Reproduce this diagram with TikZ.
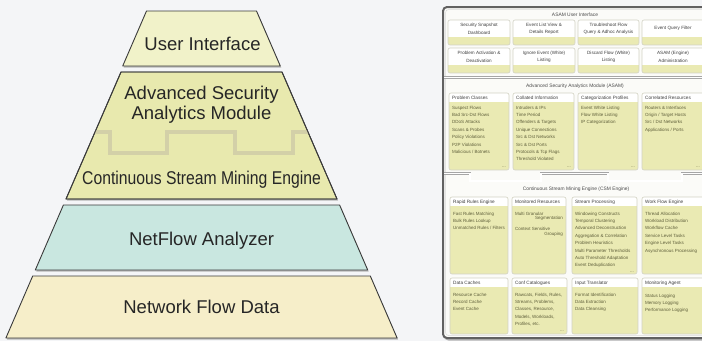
\documentclass[tikz,border=0pt]{standalone}
\usepackage{fontspec}
\setmainfont{Liberation Sans}
\definecolor{bg}{HTML}{F4F5F7}
\definecolor{uifill}{HTML}{F1F2C9}
\definecolor{asamfill}{HTML}{E8E9AE}
\definecolor{nffill}{HTML}{C9E7E0}
\definecolor{nfdfill}{HTML}{F6EEC9}
\definecolor{trapline}{HTML}{3A3A3A}
\definecolor{stepc}{HTML}{D3D0A8}
\definecolor{boxyel}{HTML}{EAEAB3}
\definecolor{boxline}{HTML}{D2D2C4}
\definecolor{panel}{HTML}{FBFBF8}
\definecolor{itemc}{HTML}{5E5E3A}
\tikzset{
  trap/.style={draw=trapline, line width=0.9pt, line join=round},
  trapshadow/.style={fill=black!28},
  big/.style={font=\fontsize{18.5}{20}\selectfont, inner sep=0pt, align=center, text=black!85},
  hdr/.style={font=\fontsize{4.7}{6}\selectfont, inner sep=0pt, text=black!75},
  itm/.style={font=\fontsize{4.5}{6}\selectfont, inner sep=0pt, text=itemc},
  uitxt/.style={font=\fontsize{4.6}{7.3}\selectfont, inner sep=0pt, align=center, text=black!75},
  ttl/.style={font=\fontsize{4.9}{6}\selectfont, inner sep=0pt, text=black!70},
  sepl/.style={draw=black!35, double=white, double distance=1.2pt, line width=0.5pt}
}
\newcommand\rpbox[6]{%
  \begin{scope}
    \path[clip, rounded corners=2pt] (#2,#3) rectangle (#4,#5);
    \fill[boxyel] (#2,#3) rectangle (#4,#5);
    \fill[white] (#2,#3) rectangle (#4,#3+9);
  \end{scope}
  \draw[boxline, line width=0.6pt, rounded corners=2pt] (#2,#3) rectangle (#4,#5);
  \node[hdr, anchor=base west] (#1) at (#2+3,#3+6.8) {#6};
}
\newcommand\rpitems[4]{%
  \foreach \t [count=\i] in {#4} {
    \node[itm, anchor=base west] (#1\i) at (#2, {#3+(\i-1)*7.4}) {\t};
  }
}
\newcommand\uibox[6]{%
  \begin{scope}
    \path[clip, rounded corners=2pt] (#2,#3) rectangle (#4,#5);
    \fill[white] (#2,#3) rectangle (#4,#5);
    \fill[boxyel] (#2,#5-8) rectangle (#4,#5);
  \end{scope}
  \draw[boxline, line width=0.6pt, rounded corners=2pt] (#2,#3) rectangle (#4,#5);
  \node[uitxt] (#1) at ({(#2+#4)/2},#3+8.8) {#6};
}
\begin{document}
\begin{tikzpicture}[x=1pt,y=-1pt]
\useasboundingbox (0,0) rectangle (702,341);
\fill[bg] (0,0) rectangle (702,341);

% ---------------- left pyramid ----------------
% shadows
\fill[trapshadow] (147.5,12.5) -- (257.5,12.5) -- (281.3,67.5) -- (123.7,67.5) -- cycle;
\fill[trapshadow] (122,73.5) -- (283,73.5) -- (338,200.5) -- (67,200.5) -- cycle;
\fill[trapshadow] (64.4,206.5) -- (340.6,206.5) -- (368.7,271.5) -- (36.3,271.5) -- cycle;
\fill[trapshadow] (33.7,277.5) -- (371.3,277.5) -- (398.1,339.5) -- (6.9,339.5) -- cycle;
% user interface
\filldraw[trap, fill=uifill] (146.5,11) -- (256.5,11) -- (280.3,66) -- (122.7,66) -- cycle;
\node[big, anchor=base] (ui) at (202.5,50) {User Interface};
% ASAM + CSM
\filldraw[trap, fill=asamfill] (121,72) -- (282,72) -- (337,199) -- (66,199) -- cycle;
\begin{scope}
  \clip (121,72) -- (282,72) -- (337,199) -- (66,199) -- cycle;
  \draw[stepc, line width=4pt] (90,132) -- (110,132) -- (110,153) -- (167,153) -- (167,132)
     -- (235,132) -- (235,153) -- (293,153) -- (293,132) -- (315,132);
\end{scope}
\draw[trap] (121,72) -- (282,72) -- (337,199) -- (66,199) -- cycle;
\node[big, anchor=base] (asam) at (201.5,119) {Advanced Security\\Analytics Module};
\node[big, anchor=base, xscale=0.85] (csm) at (201.5,184) {Continuous Stream Mining Engine};
% NetFlow Analyzer
\filldraw[trap, fill=nffill] (63.4,205) -- (339.6,205) -- (367.7,270) -- (35.3,270) -- cycle;
\node[big, anchor=base] (nfa) at (201.5,245) {NetFlow Analyzer};
% Network Flow Data
\filldraw[trap, fill=nfdfill] (32.7,276) -- (370.3,276) -- (397.1,338) -- (5.9,338) -- cycle;
\node[big, anchor=base] (nfd) at (201.5,313) {Network Flow Data};

% ---------------- right panel ----------------
\draw[black!30, line width=2pt, rounded corners=4pt] (444.5,9) rectangle (710,339.5);
\draw[black!62, line width=2pt, fill=panel, rounded corners=4pt] (443,7) rectangle (708,338);
\draw[black!15, line width=0.5pt, rounded corners=3pt] (445.5,9.5) rectangle (706,335.5);

% ASAM user interface
\node[ttl] (uititle) at (575,15) {ASAM User Interface};
\uibox{u1}{448}{20}{510}{45}{Security Snapshot\\Dashboard}
\uibox{u2}{513}{20}{575}{45}{Event List View \&\\Details Report}
\uibox{u3}{578}{20}{639}{45}{Troubleshoot Flow\\Query \& Adhoc Analysis}
\uibox{u4}{642}{20}{704}{45}{Event Query Filter}
\uibox{u5}{448}{48}{510}{73}{Problem Activation \&\\Deactivation}
\uibox{u6}{513}{48}{575}{73}{Ignore Event (White)\\Listing}
\uibox{u7}{578}{48}{639}{73}{Discard Flow (White)\\Listing}
\uibox{u8}{642}{48}{704}{73}{ASAM (Engine)\\Administration}
\draw[sepl] (444,77.5) -- (708,77.5);

% ASAM
\node[ttl] (asamtitle) at (575,86) {Advanced Security Analytics Module (ASAM)};
\rpbox{pc}{449}{93}{509}{170}{Problem Classes}
\rpitems{pci}{452}{109}{Suspect Flows, Bad Src-Dst Flows, DDoS Attacks, Scans \& Probes, Policy Violations, P2P Violations, Malicious / Botnets}
\node[itm, anchor=base east] (pcm) at (506,167) {...};
\rpbox{ci}{513}{93}{574}{170}{Collated Information}
\rpitems{cii}{516}{109}{Intruders \& IPs, Time Period, Offenders \& Targets, Unique Connections, Src \& Dst Networks, Src \& Dst Ports, Protocols \& Tcp Flags, Threshold Violated}
\node[itm, anchor=base east] (cim) at (571,167) {...};
\rpbox{cp}{578}{93}{638}{170}{Categorization Profiles}
\rpitems{cpi}{581}{109}{Event White Listing, Flow White Listing, IP Categorization}
\node[itm, anchor=base east] (cpm) at (635,167) {...};
\rpbox{cr}{642}{93}{704}{170}{Correlated Resources}
\rpitems{cri}{645}{109}{Routers \& Interfaces, Origin / Target Hosts, Src / Dst Networks, Applications / Ports}
\node[itm, anchor=base east] (crm) at (700,167) {...};

\draw[sepl] (444,173.5) -- (470,173.5) -- (470,181) -- (541,181) -- (541,173.5) -- (608,173.5)
   -- (608,181) -- (682,181) -- (682,173.5) -- (708,173.5);

% CSM
\node[ttl] (csmtitle) at (576,189) {Continuous Stream Mining Engine (CSM Engine)};
\rpbox{rr}{450}{197}{508}{274}{Rapid Rules Engine}
\rpitems{rri}{453}{215}{Fast Rules Matching, Bulk Rules Lookup, Unmatched Rules / Filters}
\rpbox{mr}{512}{197}{566}{274}{Monitored Resources}
\node[itm, anchor=base west] (mr1) at (515,215) {Multi Granular};
\node[itm, anchor=base east] (mr2) at (563,219.5) {Segmentation};
\node[itm, anchor=base west] (mr3) at (515,230) {Context Sensitive};
\node[itm, anchor=base east] (mr4) at (563,235) {Grouping};
\rpbox{sp}{572}{197}{637}{274}{Stream Processing}
\rpitems{spi}{575}{215}{Windowing Constructs, Temporal Clustering, Advanced Deconstruction, Aggregation \& Correlation, Problem Heuristics, Multi Parameter Thresholds, Auto Threshold Adaptation, Event Deduplication}
\node[itm, anchor=base east] (spm) at (634,272) {...};
\rpbox{wf}{642}{197}{704}{274}{Work Flow Engine}
\rpitems{wfi}{645}{215}{Thread Allocation, Workload Distribution, Workflow Cache, Service Level Tasks, Engine Level Tasks, Asynchronous Processing}

\rpbox{dc}{450}{278}{508}{334}{Data Caches}
\rpitems{dci}{453}{296}{Resource Cache, Record Cache, Event Cache}
\rpbox{cc}{512}{278}{567}{334}{Conf Catalogues}
\rpitems{cci}{515}{296}{{Rawcats, Fields, Rules,}, {Streams, Problems,}, {Classes, Resource,}, {Models, Workloads,}, {Profiles, etc.}}
\node[itm, anchor=base east] (ccm) at (564,331) {...};
\rpbox{it}{572}{278}{638}{334}{Input Translator}
\rpitems{iti}{575}{296}{Format Identification, Data Extraction, Data Cleansing}
\rpbox{ma}{642}{278}{704}{334}{Monitoring Agent}
\rpitems{mai}{645}{297}{Status Logging, Memory Logging, Performance Logging}
\end{tikzpicture}
\end{document}
